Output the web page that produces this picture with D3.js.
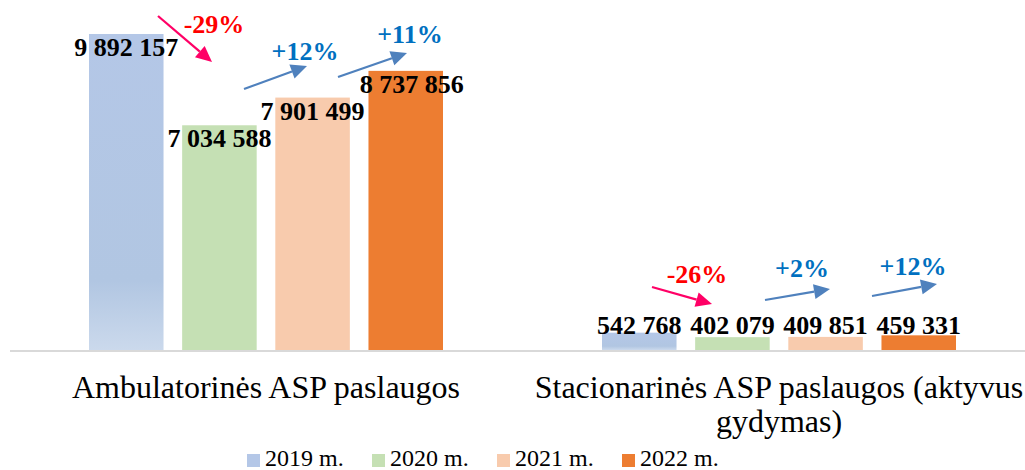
<!DOCTYPE html>
<html>
<head>
<meta charset="utf-8">
<script src="https://cdn.jsdelivr.net/npm/d3@7"></script>
<style>
    body { margin: 0; background: #fff; }
    svg { display: block; font-family: "Liberation Serif", "Times New Roman", serif; }
</style>
</head>
<body>
<svg id="chart" width="1025" height="470"></svg>
<script>
"use strict";

// data
const categories = ["Ambulatorinės ASP paslaugos", "Stacionarinės ASP paslaugos (aktyvus gydymas)"];
const years = ["2019 m.", "2020 m.", "2021 m.", "2022 m."];

const values2019 = [9892157, 542768];
const values2020 = [7034588, 402079];
const values2021 = [7901499, 409851];
const values2022 = [8737856, 459331];

const seriesValues = [values2019, values2020, values2021, values2022];
const colors = ["#b4c7e7", "#c5e0b4", "#f8cbad", "#ed7d31"];


const svg = d3.select("#chart");

const baseline = 350;

const x0 = d3.scaleBand()
    .domain(categories)
    .range([9.5, 1035.5]);

const bw = x0.bandwidth();

const x1 = d3.scaleBand()
    .domain(years)
    .range([bw / 2 - 177, bw / 2 + 177])
    .paddingInner(0.2);

const y = d3.scaleLinear()
    .domain([0, 11000000])
    .range([baseline, -1.4]);


// gradient for the 2019 bars (lighter at the bottom)
const grad = svg.append("defs")
    .append("linearGradient")
        .attr("id", "g2019")
        .attr("x1", 0).attr("y1", 0)
        .attr("x2", 0).attr("y2", 1);

grad.append("stop").attr("offset", "0%").attr("stop-color", "#b4c7e7");
grad.append("stop").attr("offset", "78%").attr("stop-color", "#b1c6e2");
grad.append("stop").attr("offset", "100%").attr("stop-color", "#cbd9ec");


// axis line
svg.append("line")
    .attr("x1", 10)
    .attr("x2", 1025)
    .attr("y1", baseline + 1)
    .attr("y2", baseline + 1)
    .attr("stroke", "#d9d9d9")
    .attr("stroke-width", 2);


// bars
const rows = [];
categories.forEach((c, ci) => {
    years.forEach((yr, si) => {
        rows.push({ cat: c, year: yr, si: si, value: seriesValues[si][ci] });
    });
});

svg.append("g")
    .selectAll("rect")
    .data(rows)
    .join("rect")
        .attr("x", d => x0(d.cat) + x1(d.year))
        .attr("y", d => y(d.value))
        .attr("width", x1.bandwidth())
        .attr("height", d => baseline - y(d.value))
        .attr("fill", d => d.si === 0 ? "url(#g2019)" : colors[d.si]);


// value labels
const fmt = v => d3.format(",")(v).replace(/,/g, " ");

svg.append("g")
    .selectAll("text")
    .data(rows)
    .join("text")
        .attr("x", d => x0(d.cat) + x1(d.year) + x1.bandwidth() / 2 + (d.si === 3 && d.value > 1e6 ? 6 : 0))
        .attr("y", d => Math.min(y(d.value) + 22, 334))
        .attr("text-anchor", "middle")
        .attr("font-size", 26)
        .attr("font-weight", "bold")
        .attr("fill", "#000")
        .text(d => fmt(d.value));


// change annotations (percent computed from the data)
//   offsets are relative to the group centre: text x, text y, arrow from / to
const annotLayout = [
    [[-52, 33, -108, 16, -54, 62], [39, 60, -22, 89, 41, 66], [144, 43, 72, 77, 141, 53]],
    [[-82, 283, -127, 287, -67, 304], [23, 277, -14, 300, 51, 289], [134, 275, 93, 296, 158, 284]]
];

const ann = svg.append("g");

categories.forEach((c, ci) => {

    const gx = x0(c) + bw / 2;

    for (let s = 1; s < seriesValues.length; s++) {

        const change = Math.round((seriesValues[s][ci] / seriesValues[s - 1][ci] - 1) * 100);
        const up = change >= 0;
        const L = annotLayout[ci][s - 1];

        ann.append("text")
            .attr("x", gx + L[0])
            .attr("y", L[1])
            .attr("text-anchor", "middle")
            .attr("font-size", 26)
            .attr("font-weight", "bold")
            .attr("fill", up ? "#0070c0" : "#ff0000")
            .text((up ? "+" : "-") + Math.abs(change) + "%");

        // arrow
        const ax1 = gx + L[2], ay1 = L[3], ax2 = gx + L[4], ay2 = L[5];
        const ang = Math.atan2(ay2 - ay1, ax2 - ax1);
        const hl = 16, hw = 7.5;
        const bx = ax2 - hl * Math.cos(ang), by = ay2 - hl * Math.sin(ang);
        const col = up ? "#4f81bd" : "#ff0066";

        ann.append("line")
            .attr("x1", ax1).attr("y1", ay1)
            .attr("x2", bx).attr("y2", by)
            .attr("stroke", col)
            .attr("stroke-width", 2.25);

        ann.append("path")
            .attr("d", "M" + ax2 + "," + ay2 +
                       "L" + (bx - hw * Math.sin(ang)) + "," + (by + hw * Math.cos(ang)) +
                       "L" + (bx + hw * Math.sin(ang)) + "," + (by - hw * Math.cos(ang)) + "Z")
            .attr("fill", col);
    }
});


// category labels (wrapped to band width)
const catLabels = svg.append("g");

categories.forEach(c => {

    const t = catLabels.append("text")
        .attr("x", x0(c) + bw / 2)
        .attr("y", 398)
        .attr("text-anchor", "middle")
        .attr("font-size", 32)
        .attr("fill", "#000");

    const words = c.split(" ");
    let line = [];
    let tspan = t.append("tspan").attr("x", x0(c) + bw / 2).attr("dy", 0);

    words.forEach(w => {
        line.push(w);
        tspan.text(line.join(" "));
        if (tspan.node().getComputedTextLength() > bw - 6 && line.length > 1) {
            line.pop();
            tspan.text(line.join(" "));
            line = [w];
            tspan = t.append("tspan")
                .attr("x", x0(c) + bw / 2)
                .attr("dy", 34)
                .text(w);
        }
    });
});


// legend
const legend = svg.append("g")
    .attr("transform", "translate(247, 466)");

const item = legend.selectAll("g")
    .data(years)
    .join("g")
        .attr("transform", (d, i) => "translate(" + (i * 125) + ",0)");

item.append("rect")
    .attr("x", 0)
    .attr("y", -12)
    .attr("width", 13)
    .attr("height", 13)
    .attr("fill", (d, i) => colors[i]);

item.append("text")
    .attr("x", 18)
    .attr("y", 0)
    .attr("font-size", 24)
    .attr("fill", "#000")
    .text(d => d);

</script>
</body>
</html>
